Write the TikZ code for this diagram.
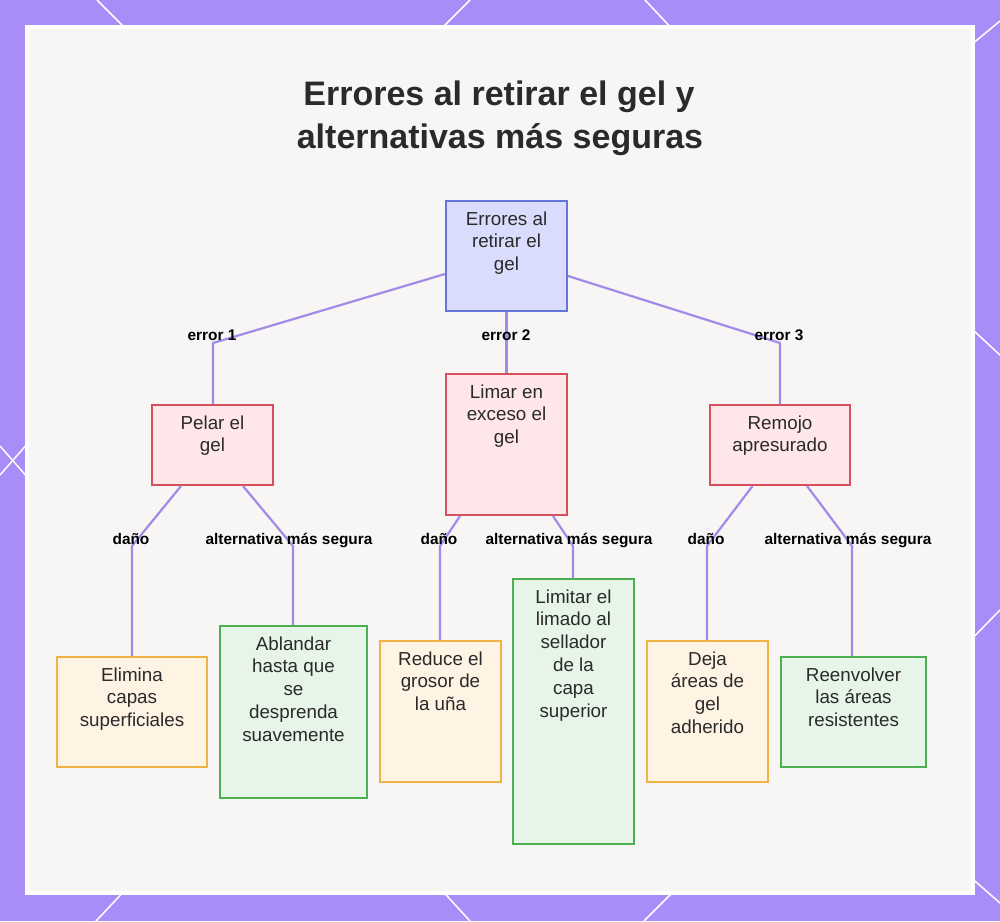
\documentclass[tikz,border=0pt]{standalone}
\usepackage{fontspec}
\setmainfont{Liberation Sans}
\usepackage{graphicx}
\definecolor{bgpurple}{HTML}{A88CF8}
\definecolor{panel}{HTML}{F7F6F5}
\definecolor{conn}{HTML}{A08CE8}
\definecolor{rootfill}{HTML}{D9DCFC}
\definecolor{rootdraw}{HTML}{6474D8}
\definecolor{errfill}{HTML}{FFE6E9}
\definecolor{errdraw}{HTML}{D4505F}
\definecolor{harmfill}{HTML}{FFF3E4}
\definecolor{harmdraw}{HTML}{F0B445}
\definecolor{altfill}{HTML}{E6F5E8}
\definecolor{altdraw}{HTML}{4CAF50}
\definecolor{txt}{HTML}{2A2A2A}
\newcommand{\bxt}[3]{\parbox[c][#2pt][t]{#1pt}{\centering\fontsize{18.8}{22.8}\selectfont\rule{0pt}{24pt}#3}}
\tikzset{
  rootbox/.style={draw=rootdraw, fill=rootfill, line width=2pt, inner sep=0pt, text=txt},
  errbox/.style={draw=errdraw, fill=errfill, line width=2pt, inner sep=0pt, text=txt},
  harmbox/.style={draw=harmdraw, fill=harmfill, line width=2pt, inner sep=0pt, text=txt},
  altbox/.style={draw=altdraw, fill=altfill, line width=2pt, inner sep=0pt, text=txt},
  connline/.style={draw=conn, line width=2.2pt, line join=round},
  lbl/.style={inner sep=0pt, anchor=base, text=black, font=\fontsize{15.4}{18}\selectfont\bfseries},
  ttl/.style={inner sep=0pt, anchor=base, text=txt, font=\fontsize{34}{43}\selectfont\bfseries},
  deco/.style={draw=white, line width=1.5pt}
}
\begin{document}
\begin{tikzpicture}[x=1pt, y=-1pt]
\useasboundingbox (0,0) rectangle (1000,921);
\fill[bgpurple] (0,0) rectangle (1000,921);
% decorative lattice lines
\draw[deco] (97,0) -- (130,33);
\draw[deco] (470,0) -- (437,33);
\draw[deco] (645,0) -- (676,33);
\draw[deco] (1000,21) -- (960,54);
\draw[deco] (1000,355) -- (960,318);
\draw[deco] (1000,610) -- (960,651);
\draw[deco] (1000,903) -- (960,868);
\draw[deco] (0,446) -- (36,487);
\draw[deco] (0,475) -- (36,434);
\draw[deco] (96,921) -- (130,885);
\draw[deco] (470,921) -- (437,885);
\draw[deco] (644,921) -- (680,885);
% panel
\fill[white] (25,25) rectangle (975,895);
\fill[panel] (29,29) rectangle (971,891);
% title
\node[ttl] (t1) at (499,105) {Errores al retirar el gel y};
\node[ttl] (t2) at (500,148) {alternativas más seguras};
% nodes
\node[rootbox] (root) at (506.5,256) {\bxt{121}{110}{Errores al\\retirar el\\gel}};
\node[errbox] (pelar) at (212.5,445) {\bxt{121}{80}{Pelar el\\gel}};
\node[errbox] (limar) at (506.5,444.5) {\bxt{121}{141}{Limar en\\exceso el\\gel}};
\node[errbox] (remojo) at (780,445) {\bxt{140}{80}{Remojo\\apresurado}};
\node[harmbox] (elimina) at (132,712) {\bxt{150}{110}{Elimina\\capas\\superficiales}};
\node[altbox] (ablandar) at (293.5,712) {\bxt{147}{172}{Ablandar\\hasta que\\se\\desprenda\\suavemente}};
\node[harmbox] (reduce) at (440.5,711.5) {\bxt{121}{141}{Reduce el\\grosor de\\la uña}};
\node[altbox] (limitar) at (573.5,711.5) {\bxt{121}{265}{Limitar el\\limado al\\sellador\\de la\\capa\\superior}};
\node[harmbox] (deja) at (707.5,711.5) {\bxt{121}{141}{Deja\\áreas de\\gel\\adherido}};
\node[altbox] (reenv) at (853.5,712) {\bxt{145}{110}{Reenvolver\\las áreas\\resistentes}};
% bend coordinates
\coordinate (e1) at (213,343);
\coordinate (e3) at (780,343);
\coordinate (d1) at (132,546);
\coordinate (a1) at (293,546);
\coordinate (d2) at (440,546);
\coordinate (a2) at (573,546);
\coordinate (d3) at (707,546);
\coordinate (a3) at (852,546);
% connectors
\draw[connline] ([yshift=-18pt]root.west) -- (e1) -- (e1 |- pelar.north);
\draw[connline] (root.south) -- (limar.north);
\draw[connline] ([yshift=-20pt]root.east) -- (e3) -- (e3 |- remojo.north);
\draw[connline] ([xshift=-31.5pt]pelar.south) -- (d1) -- (d1 |- elimina.north);
\draw[connline] ([xshift=30.5pt]pelar.south) -- (a1) -- (a1 |- ablandar.north);
\draw[connline] ([xshift=-46.5pt]limar.south) -- (d2) -- (d2 |- reduce.north);
\draw[connline] ([xshift=46.5pt]limar.south) -- (a2) -- (a2 |- limitar.north);
\draw[connline] ([xshift=-27.5pt]remojo.south) -- (d3) -- (d3 |- deja.north);
\draw[connline] ([xshift=27pt]remojo.south) -- (a3) -- (a3 |- reenv.north);
% labels
\node[lbl] (l1) at (212,340) {error 1};
\node[lbl] (l2) at (506,340) {error 2};
\node[lbl] (l3) at (779,340) {error 3};
\node[lbl] (l4) at (131,544) {daño};
\node[lbl] (l5) at (289,544) {alternativa más segura};
\node[lbl] (l6) at (439,544) {daño};
\node[lbl] (l7) at (569,544) {alternativa más segura};
\node[lbl] (l8) at (706,544) {daño};
\node[lbl] (l9) at (848,544) {alternativa más segura};
\end{tikzpicture}
\end{document}
